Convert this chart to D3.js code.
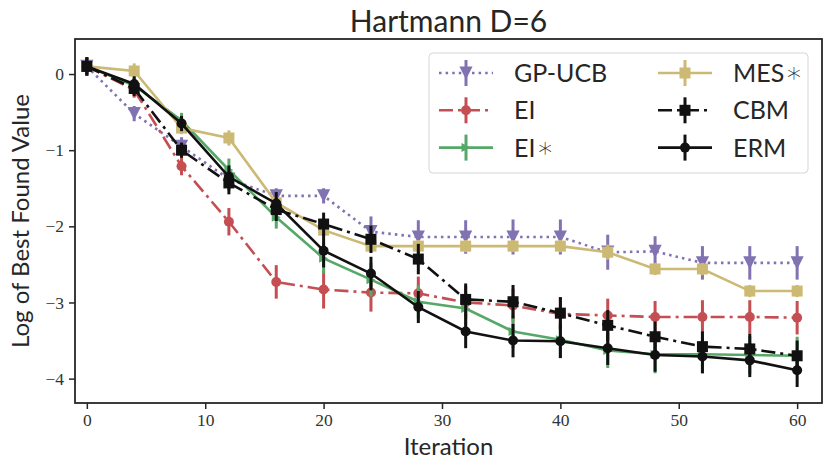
<!DOCTYPE html>
<html>
<head>
	<script src="https://cdn.jsdelivr.net/npm/d3@7"></script>
	<style>
		html, body {
			padding: 0;
			margin: 0;
			background: white;
		}
	</style>
</head>
<body>
	<script>
		var width = 831, height = 471;
		var plot = {left: 75, right: 822, top: 39, bottom: 403};

		// data
		var iterations = [0, 4, 8, 12, 16, 20, 24, 28, 32, 36, 40, 44, 48, 52, 56, 60];
		var xTicks = [0, 10, 20, 30, 40, 50, 60];
		var yTicks = [0, -1, -2, -3, -4];

		var gpucb      = [0.10, -0.52, -0.95, -1.38, -1.60, -1.60, -2.07, -2.14, -2.14, -2.14, -2.14, -2.34, -2.33, -2.48, -2.48, -2.48];
		var gpucbErr   = [0.12, 0.10, 0.12, 0.15, 0.10, 0.10, 0.20, 0.22, 0.22, 0.23, 0.23, 0.23, 0.20, 0.22, 0.22, 0.22];
		var ei         = [0.10, -0.21, -1.21, -1.94, -2.73, -2.83, -2.87, -2.88, -3.00, -3.04, -3.15, -3.17, -3.19, -3.19, -3.19, -3.20];
		var eiErr      = [0.10, 0.10, 0.12, 0.18, 0.22, 0.25, 0.25, 0.22, 0.22, 0.22, 0.22, 0.22, 0.21, 0.22, 0.22, 0.22];
		var eiStar     = [0.10, -0.15, -0.61, -1.26, -1.88, -2.42, -2.70, -2.99, -3.08, -3.38, -3.49, -3.63, -3.68, -3.68, -3.69, -3.70];
		var eiStarErr  = [0.10, 0.10, 0.10, 0.15, 0.15, 0.20, 0.22, 0.22, 0.22, 0.22, 0.24, 0.23, 0.25, 0.25, 0.25, 0.25];
		var mes        = [0.10, 0.04, -0.71, -0.84, -1.69, -2.05, -2.26, -2.26, -2.26, -2.26, -2.26, -2.34, -2.56, -2.56, -2.85, -2.85];
		var mesErr     = [0.12, 0.10, 0.08, 0.10, 0.08, 0.08, 0.08, 0.08, 0.08, 0.08, 0.08, 0.10, 0.08, 0.08, 0.08, 0.08];
		var cbm        = [0.10, -0.19, -1.00, -1.43, -1.78, -1.97, -2.17, -2.43, -2.96, -2.99, -3.14, -3.30, -3.45, -3.58, -3.61, -3.70];
		var cbmErr     = [0.12, 0.10, 0.10, 0.15, 0.15, 0.15, 0.18, 0.20, 0.21, 0.22, 0.21, 0.20, 0.20, 0.20, 0.20, 0.20];
		var erm        = [0.10, -0.13, -0.65, -1.35, -1.70, -2.32, -2.62, -3.06, -3.38, -3.50, -3.51, -3.60, -3.69, -3.71, -3.76, -3.89];
		var ermErr     = [0.12, 0.10, 0.10, 0.15, 0.15, 0.22, 0.22, 0.21, 0.22, 0.22, 0.22, 0.22, 0.22, 0.22, 0.22, 0.22];

		var series = [
			{name: "GP-UCB", star: false, y: gpucb,  err: gpucbErr,  color: "#8172b2", dash: "2.5,4.1", marker: "down"},
			{name: "EI",     star: false, y: ei,     err: eiErr,     color: "#c44e52", dash: "14,5,3,5", marker: "circle"},
			{name: "EI",     star: true,  y: eiStar, err: eiStarErr, color: "#55a868", dash: null, marker: "right"},
			{name: "MES",    star: true,  y: mes,    err: mesErr,    color: "#ccb974", dash: null, marker: "square"},
			{name: "CBM",    star: false, y: cbm,    err: cbmErr,    color: "#111111", dash: "14,5,3,5", marker: "square"},
			{name: "ERM",    star: false, y: erm,    err: ermErr,    color: "#111111", dash: null, marker: "circle"}
		];

		var svg = d3.select("body").append("svg")
			.attr("width", width)
			.attr("height", height)
			.style("font-family", "Lato, sans-serif");

		var x = d3.scaleLinear().domain([-1, 62.1]).range([plot.left, plot.right]);
		var y = d3.scaleLinear().domain([-4.32, 0.46]).range([plot.bottom, plot.top]);

		/* axes */
		var xAxis = svg.append("g")
			.attr("transform", "translate(0," + plot.bottom + ")")
			.call(d3.axisBottom(x).tickValues(xTicks).tickSize(6).tickPadding(5));
		var yAxis = svg.append("g")
			.attr("transform", "translate(" + plot.left + ",0)")
			.call(d3.axisLeft(y).tickValues(yTicks).tickSize(6).tickPadding(5)
				.tickFormat(function(d) { return d < 0 ? "\u2212" + Math.abs(d) : d; }));

		[xAxis, yAxis].forEach(function(a) {
			a.select(".domain").remove();
			a.selectAll(".tick line").attr("stroke", "#262626").attr("stroke-width", 1.5);
			a.selectAll(".tick text")
				.attr("fill", "#333")
				.style("font-family", "'Liberation Serif', serif")
				.style("font-size", "17.5px");
		});

		svg.append("rect")
			.attr("x", plot.left)
			.attr("y", plot.top)
			.attr("width", plot.right - plot.left)
			.attr("height", plot.bottom - plot.top)
			.attr("fill", "none")
			.attr("stroke", "#262626")
			.attr("stroke-width", 1.8);

		/* markers */
		var drawMarker = function(g, type, cx, cy, color, s) {
			if (type === "circle") {
				g.append("circle").attr("cx", cx).attr("cy", cy).attr("r", s * 0.5).attr("fill", color);
			} else if (type === "square") {
				g.append("rect").attr("x", cx - s / 2).attr("y", cy - s / 2)
					.attr("width", s).attr("height", s).attr("fill", color);
			} else if (type === "down") {
				var h = s * 0.55;
				g.append("path").attr("d", "M" + (cx - h) + "," + (cy - h) + "L" + (cx + h) + "," + (cy - h) + "L" + cx + "," + (cy + h) + "Z")
					.attr("fill", color);
			} else if (type === "right") {
				var r = s * 0.45;
				g.append("path").attr("d", "M" + (cx - r) + "," + (cy - r) + "L" + (cx + r) + "," + cy + "L" + (cx - r) + "," + (cy + r) + "Z")
					.attr("fill", color);
			}
		};

		var markerSize = {circle: 10, square: 11, down: 12, right: 10};

		var line = d3.line()
			.x(function(d, i) { return x(iterations[i]); })
			.y(function(d) { return y(d); });

		var chart = svg.append("g");
		series.forEach(function(s) {
			var g = chart.append("g");
			g.selectAll("line.err")
				.data(s.y)
				.enter().append("line")
				.attr("x1", function(d, i) { return x(iterations[i]); })
				.attr("x2", function(d, i) { return x(iterations[i]); })
				.attr("y1", function(d, i) { return y(d + s.err[i]); })
				.attr("y2", function(d, i) { return y(d - s.err[i]); })
				.attr("stroke", s.color)
				.attr("stroke-width", 3);
			g.append("path")
				.attr("d", line(s.y))
				.attr("fill", "none")
				.attr("stroke", s.color)
				.attr("stroke-width", 2.6)
				.attr("stroke-dasharray", s.dash);
			s.y.forEach(function(d, i) {
				drawMarker(g, s.marker, x(iterations[i]), y(d), s.color, markerSize[s.marker]);
			});
		});

		/* legend */
		var legend = svg.append("g");
		legend.append("rect")
			.attr("x", 429).attr("y", 53)
			.attr("width", 379).attr("height", 120)
			.attr("rx", 4)
			.attr("fill", "white")
			.attr("fill-opacity", 0.85)
			.attr("stroke", "#d6d6d6")
			.attr("stroke-width", 1);

		series.forEach(function(s, k) {
			var col = Math.floor(k / 3), row = k % 3;
			var hx = col === 0 ? 439 : 658;
			var ly = 73 + row * 37.3;
			var g = legend.append("g");
			g.append("line")
				.attr("x1", hx).attr("x2", hx + 54)
				.attr("y1", ly).attr("y2", ly)
				.attr("stroke", s.color)
				.attr("stroke-width", 2.6)
				.attr("stroke-dasharray", s.dash);
			g.append("line")
				.attr("x1", hx + 27).attr("x2", hx + 27)
				.attr("y1", ly - 13).attr("y2", ly + 13)
				.attr("stroke", s.color)
				.attr("stroke-width", 3);
			drawMarker(g, s.marker, hx + 27, ly, s.color, markerSize[s.marker]);
			var t = g.append("text")
				.attr("x", hx + 75)
				.attr("y", ly + 9)
				.attr("fill", "#262626")
				.style("font-size", "25px")
				.text(s.name);
			if (s.star) {
				t.append("tspan")
					.attr("dx", 1)
					.style("font-family", "'DejaVu Sans', sans-serif")
					.style("font-size", "28px")
					.style("font-weight", 200)
					.text("\u2217");
			}
		});

		/* titles */
		svg.append("text")
			.attr("x", (plot.left + plot.right) / 2)
			.attr("y", 32)
			.attr("text-anchor", "middle")
			.attr("fill", "#262626")
			.style("font-size", "30px")
			.text("Hartmann D=6");

		svg.append("text")
			.attr("x", (plot.left + plot.right) / 2)
			.attr("y", 455)
			.attr("text-anchor", "middle")
			.attr("fill", "#262626")
			.style("font-size", "24px")
			.text("Iteration");

		svg.append("text")
			.attr("transform", "translate(29," + ((plot.top + plot.bottom) / 2) + ") rotate(-90)")
			.attr("text-anchor", "middle")
			.attr("fill", "#262626")
			.style("font-size", "24px")
			.text("Log of Best Found Value");
	</script>
</body>
</html>
